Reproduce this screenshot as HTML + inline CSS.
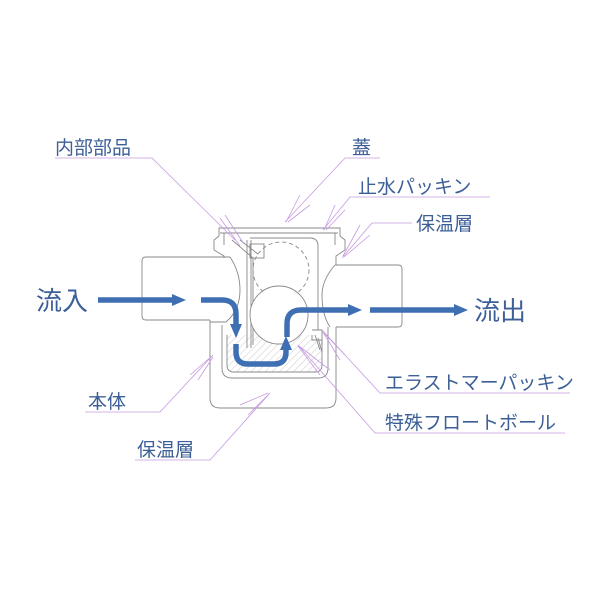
<!DOCTYPE html>
<html><head><meta charset="utf-8"><style>
body{margin:0;background:#fff;width:600px;height:600px;overflow:hidden}
svg{display:block}
text{font-family:"Liberation Sans","Noto Sans CJK JP",sans-serif;fill:#3d5f98}
</style></head><body>
<svg width="600" height="600" viewBox="0 0 600 600" xmlns="http://www.w3.org/2000/svg">
<defs>
<pattern id="h" width="5" height="5" patternUnits="userSpaceOnUse" patternTransform="rotate(45)">
<line x1="0" y1="0" x2="0" y2="5" stroke="#aaa" stroke-width="0.6"/></pattern>
<marker id="a" markerUnits="userSpaceOnUse" markerWidth="14" markerHeight="14" refX="4" refY="7" orient="auto"><path d="M0,1 L14,7 L0,13z" fill="#3f6fb3"/></marker>
</defs>
<g fill="none" stroke="#888" stroke-width="0.9">
<!-- lower body outer / insulation -->
<path d="M210 320 V398 Q210 408 220 408 H326 Q336 408 336 398 V327"/>
<!-- inner body -->
<path d="M222 325 V368 Q222 378 232 378 H318 Q328 378 328 368 V327"/>
<path d="M227 335 V365 Q227 372 234 372 H315 Q322 372 322 365 V340 H312 V335" fill="url(#h)"/>
<!-- left pipe -->
<path d="M230 257 H146 Q142 257 142 261 V316 Q142 320 146 320 H210"/>
<path d="M230 257 Q240 272 240 290 Q240 310 226 322 H210"/>
<!-- right pipe -->
<path d="M335 265 H398 Q402 265 402 269 V323 Q402 327 398 327 H336"/>
<path d="M335 265 Q322 280 322 295 Q322 315 330 327"/>
<!-- top cap -->
<path d="M214 250 V240 L219 236 V228 H340 V236 L345 240 V250 L336 256 V265 M214 250 L224 256 V258"/>
<line x1="220" y1="233" x2="338" y2="233"/>
<line x1="224" y1="233" x2="224" y2="245"/>
<line x1="335" y1="233" x2="335" y2="245"/>
<!-- inner parts -->
<path d="M232 240 L253 258 V345 M240 240 L258 254"/>
<line x1="247" y1="240" x2="247" y2="348"/>
<line x1="251" y1="240" x2="251" y2="348"/>
<path d="M250 238 H310 Q318 238 318 246 V330"/>
<rect x="250" y="244" width="14" height="14"/>
<circle cx="281" cy="270" r="28" stroke-dasharray="4 3"/>
<circle cx="279" cy="315" r="29" fill="#fff"/>
<path d="M312 330 H322 V345 M315 335 L320 350 M318 338 L322 352"/>
</g>
<!-- arrows -->
<g fill="none" stroke="#3f6fb3" stroke-width="5.5">
<line x1="98" y1="300" x2="176" y2="300" marker-end="url(#a)"/>
<path d="M201 300 H222 Q236 300 236 314 V328" marker-end="url(#a)"/>
<path d="M236 344 V352 Q236 364 248 364 H274 Q286 364 286 352 V346" marker-end="url(#a)"/>
<path d="M287 337 V324 Q287 310 301 310 H352" marker-end="url(#a)"/>
<line x1="370" y1="310" x2="458" y2="310" marker-end="url(#a)"/>
</g>
<!-- leader lines -->
<g stroke="#c79ae0" stroke-width="0.8" fill="none">
<path d="M55 158 H152 L235 240"/><path d="M220 218 L240 246 M225 215 L244 244"/>
<path d="M380 158 H345 L285 222"/><path d="M300 195 L286 222 M310 205 L288 222"/>
<path d="M490 197 H350 L323 230"/><path d="M335 205 L324 230 M345 210 L326 230"/>
<path d="M412 223 H372 L342 258"/><path d="M360 225 L343 256 M370 235 L344 257"/>
<path d="M570 393 H380 L322 330"/><path d="M340 360 L323 332 M345 355 L324 333"/>
<path d="M565 433 H375 L298 345"/><path d="M320 375 L298 346 M330 370 L299 346"/>
<path d="M85 412 H160 L213 355"/><path d="M190 375 L212 356 M198 380 L213 357"/>
<path d="M135 460 H210 L270 393"/><path d="M240 405 L268 393 M248 415 L269 394"/>
</g>
<!-- labels -->
<g font-size="19">
<text x="55" y="154">内部部品</text>
<text x="352" y="154">蓋</text>
<text x="358" y="193">止水パッキン</text>
<text x="416" y="230">保温層</text>
<text x="385" y="389">エラストマーパッキン</text>
<text x="385" y="429">特殊フロートボール</text>
<text x="88" y="408">本体</text>
<text x="137" y="456">保温層</text>
</g>
<text x="36" y="310" font-size="26">流入</text>
<text x="474" y="320" font-size="26">流出</text>
</svg>
</body></html>
